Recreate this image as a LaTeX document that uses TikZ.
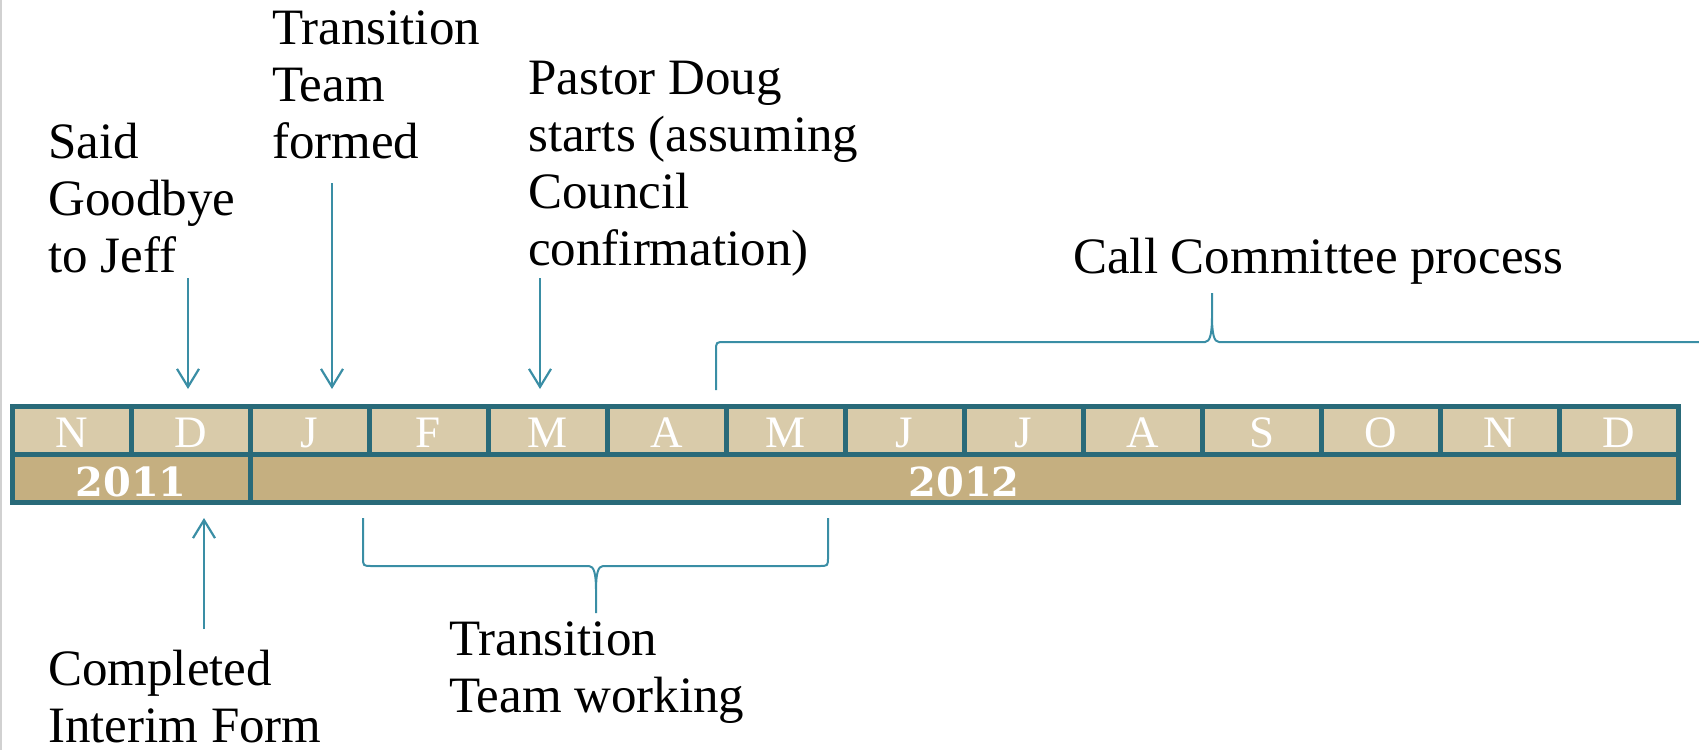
\documentclass[tikz,border=0pt]{standalone}
\usepackage{fontspec}
\setmainfont{Liberation Serif}
\newfontfamily\yearfont{DejaVu Serif}
\usetikzlibrary{arrows.meta,positioning}
\definecolor{frame}{RGB}{41,106,121}
\definecolor{monthfill}{RGB}{217,203,170}
\definecolor{yearfill}{RGB}{197,175,128}
\definecolor{linkteal}{RGB}{58,142,165}
\tikzstyle{month} = [draw=frame, line width=5pt, fill=monthfill, minimum width=119pt, minimum height=48pt, inner sep=0pt, outer sep=0pt, text=white, font=\fontsize{45}{50}\selectfont, text height=34pt, text depth=0pt]
\tikzstyle{year} = [draw=frame, line width=5pt, fill=yearfill, minimum height=48pt, inner sep=0pt, outer sep=0pt, text=white, font=\yearfont\bfseries\fontsize{40}{42}\selectfont, text height=36pt, text depth=0pt]
\tikzstyle{event} = [align=left, anchor=base west, inner sep=0pt, font=\fontsize{51}{57}\selectfont]
\tikzstyle{arr} = [draw=linkteal, line width=2.2pt, -{Straight Barb[length=18pt, width=22pt]}]
\tikzstyle{bracket} = [draw=linkteal, line width=2pt]

\begin{document}
\begin{tikzpicture}[x=1pt, y=-1pt]
        \useasboundingbox (0,0) rectangle (1699,750);
        \clip (0,0) rectangle (1699,750);
        \draw[black!18, line width=2pt] (1,0) -- (1,750);

        \foreach \m [count=\i] in {N,D,J,F,M,A,M,J,J,A,S,O,N,D}
            \node[month] (m\i) at ({71.5+119*(\i-1)},430) {\m};
        \node[year, minimum width=238pt] (y2011) at (131,478) {2011};
        \node[year, minimum width=1428pt] (y2012) at (964,478) {2012};

        \node[event] (jeff) at (48,272) {Said\\Goodbye\\to Jeff};
        \node[event] (formed) at (272,158) {Transition\\Team\\formed};
        \node[event] (pastor) at (528,265) {Pastor Doug\\starts (assuming\\Council\\confirmation)};
        \node[event] (callproc) at (1073,273) {Call Committee process};
        \node[event] (interim) at (48,742) {Completed\\Interim Form};
        \node[event] (working) at (449,712) {Transition\\Team working};

        \coordinate (jeffA) at (188,278);
        \coordinate (jeffB) at (188,389);
        \coordinate (formedA) at (332,183);
        \coordinate (formedB) at (332,389);
        \coordinate (pastorA) at (540,278);
        \coordinate (pastorB) at (540,389);
        \coordinate (interimA) at (204,629);
        \coordinate (interimB) at (204,518);
        \draw[arr] (jeffA) -- (jeffB);
        \draw[arr] (formedA) -- (formedB);
        \draw[arr] (pastorA) -- (pastorB);
        \draw[arr] (interimA) -- (interimB);

        \coordinate (workL) at (363,518);
        \coordinate (workTip) at (596,613);
        \coordinate (workR) at (828,518);
        \draw[bracket] (workL) -- (363,557) .. controls (363,566) .. (372,566)
            -- (589,566) .. controls (594,566) and (596,574) .. (596,590) -- (workTip)
            -- (596,590) .. controls (596,574) and (598,566) .. (603,566)
            -- (819,566) .. controls (828,566) .. (828,557) -- (workR);

        \coordinate (callL) at (716,390);
        \coordinate (callTip) at (1212,293);
        \coordinate (callR) at (1708,390);
        \draw[bracket] (callL) -- (716,351) .. controls (716,342) .. (725,342)
            -- (1205,342) .. controls (1210,342) and (1212,334) .. (1212,316) -- (callTip)
            -- (1212,316) .. controls (1212,334) and (1214,342) .. (1219,342)
            -- (1699,342) .. controls (1708,342) .. (1708,351) -- (callR);
    \end{tikzpicture}
\end{document}
